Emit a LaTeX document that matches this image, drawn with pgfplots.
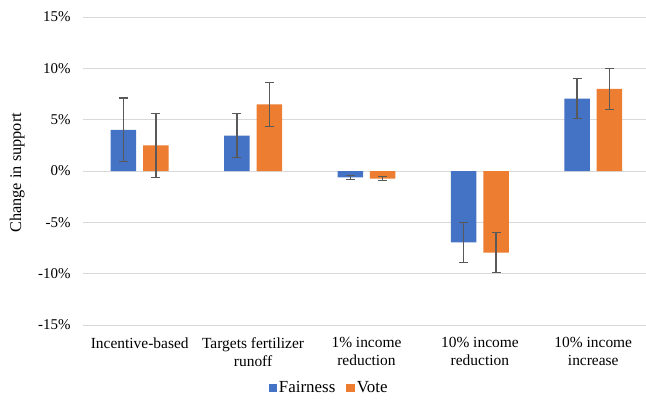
\documentclass[border=0pt]{standalone}
\usepackage{pgfplots}
\pgfplotsset{compat=1.18}
\usepackage{fontspec}
\setmainfont{Liberation Serif}
\definecolor{cblue}{HTML}{4472C4}
\definecolor{corange}{HTML}{ED7D31}
\definecolor{cgrid}{HTML}{D9D9D9}
\definecolor{cerr}{HTML}{595959}
\begin{document}
\begin{tikzpicture}
\begin{axis}[
  set layers=standard,
  at={(0,0)}, anchor=south west,
  scale only axis,
  width=563bp, height=308bp,
  ybar, bar width=25.5bp,
  xmin=-0.5, xmax=4.465,
  ymin=-15, ymax=15,
  axis line style={draw=none},
  ymajorgrids, grid style={cgrid, line width=0.9bp},
  ytick={-15,-10,-5,0,5,10,15},
  yticklabels={-15\%,-10\%,-5\%,0\%,5\%,10\%,15\%},
  xtick={0,1,2,3,4},
  xticklabels={Incentive-based, Targets fertilizer\\runoff, 1\% income\\reduction, 10\% income\\reduction, 10\% income\\increase},
  major tick length=0pt,
  yticklabel style={font=\fontsize{15}{17}\selectfont, xshift=-9bp},
  xticklabel style={font=\fontsize{15.5}{18}\selectfont, align=center, yshift=-9bp},
  ylabel={Change in support},
  ylabel style={font=\fontsize{16.4}{19}\selectfont, at={(axis description cs:-0.117,0.494)}, anchor=center},
  legend style={draw=none, font=\fontsize{17}{19}\selectfont, at={(axis description cs:0.437,-0.204)}, anchor=center, legend columns=2, /tikz/every even column/.append style={column sep=9bp}},
  legend image code/.code={\fill[#1] (0bp,-4.2bp) rectangle (8.4bp,4.2bp);},
]
\addplot[fill=cblue, draw=none, bar shift=-16.2bp, on layer=pre main]
  coordinates {(0,4.0) (1,3.45) (2,-0.62) (3,-6.95) (4,7.05)};
\addplot[fill=corange, draw=none, bar shift=16.2bp, on layer=pre main]
  coordinates {(0,2.5) (1,6.5) (2,-0.75) (3,-7.95) (4,8.0)};
\addplot[draw opacity=0, fill=none, bar shift=-16.2bp, forget plot, on layer=axis foreground, error bars/.cd, y dir=both, y explicit, error bar style={draw=cerr, draw opacity=1, line width=1.4bp}, error mark options={draw=cerr, draw opacity=1, rotate=90, mark size=4.5bp, line width=1.3bp}]
  coordinates {(0,4.0) +- (0,3.1) (1,3.45) +- (0,2.15) (2,-0.62) +- (0,0.2) (3,-6.95) +- (0,1.95) (4,7.05) +- (0,1.95)};
\addplot[draw opacity=0, fill=none, bar shift=16.2bp, forget plot, on layer=axis foreground, error bars/.cd, y dir=both, y explicit, error bar style={draw=cerr, draw opacity=1, line width=1.4bp}, error mark options={draw=cerr, draw opacity=1, rotate=90, mark size=4.5bp, line width=1.3bp}]
  coordinates {(0,2.5) +- (0,3.1) (1,6.5) +- (0,2.15) (2,-0.75) +- (0,0.2) (3,-7.95) +- (0,1.95) (4,8.0) +- (0,2.0)};
\legend{Fairness, Vote}
\end{axis}
\pgfresetboundingbox
\path[use as bounding box] (-83bp,-78bp) rectangle (563bp,325bp);
\end{tikzpicture}
\end{document}
